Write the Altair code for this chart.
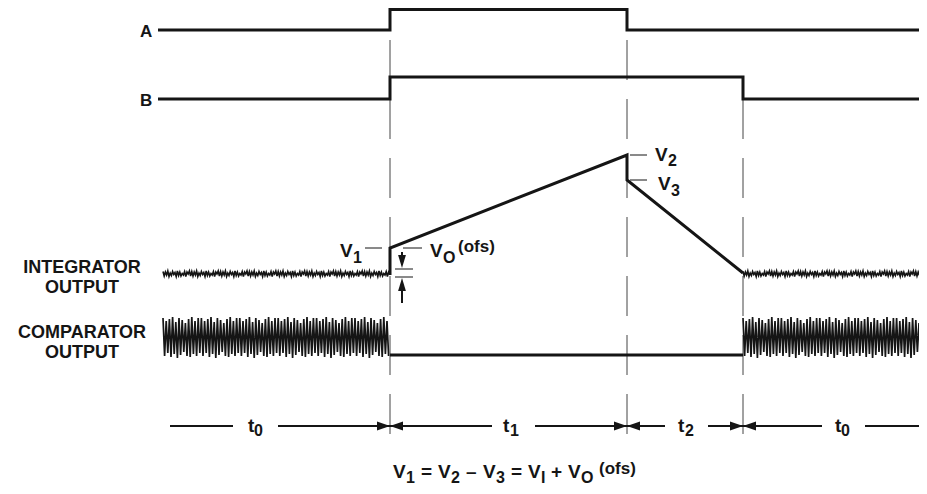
import altair as alt
import pandas as pd

# ---------------- data (timing diagram, page-pixel units) ----------------
t_edges = [390, 627, 743]          # event times: start of t1, start of t2, end of t2

A_x = [158, 390, 390, 627, 627, 927]
A_y = [30, 30, 9.5, 9.5, 30, 30]
B_x = [158, 390, 390, 743, 743, 927]
B_y = [99, 99, 77, 77, 99, 99]
integ_x = [390, 390, 627, 627, 743]
integ_y = [275, 248, 155, 180, 273]
comp_x = [390, 743]
comp_y = [355, 355]

# hand-drawn noise texture offsets (repeated along the idle intervals)
integ_pattern = [0.5, 5.0, 1.0, 4.0, 0.0, 5.5, 2.0, 4.5, 0.5, 3.5, 1.5, 5.5,
                 0.0, 4.5, 1.0, 5.0, 2.5, 4.0, 0.5, 5.5, 1.0, 3.0, 0.0, 5.0]
comp_top = [318, 321, 319, 317, 322, 318, 320, 323, 319, 317, 321, 318]
comp_bot = [356, 353, 357, 354, 358, 355, 352, 356, 357, 354, 356, 353]
noise_spans = [(163, 390), (743, 927)]

# thin reference ticks: (x1, x2, y)
tick_x1 = [365, 403, 395, 395, 630, 630]
tick_x2 = [382, 422, 413, 413, 647, 647]
tick_y = [248, 248, 269, 277, 155, 180]

# time-interval arrow row
row_y = 426
row_seg_x1 = [170, 278, 390, 535, 627, 708, 743, 865]
row_seg_x2 = [233, 390, 492, 627, 665, 743, 822, 927]

# arrowheads: tip x, tip y, direction
head_x = [390, 390, 627, 627, 743, 743, 402, 402]
head_y = [426, 426, 426, 426, 426, 426, 268, 278]
head_dir = ["right", "left", "right", "left", "right", "left", "down", "up"]
# VO(ofs) arrow stems: (x, y1, y2)
stem_x = [402, 402]
stem_y1 = [252, 291]
stem_y2 = [258, 303]

# text pieces (left aligned, alphabetic baseline); kind m = main, s = sub/superscript
txt = ["A", "B",
       "V", "1", "V", "2", "V", "3", "V", "O", "(ofs)",
       "t", "0", "t", "1", "t", "2", "t", "0",
       "V", "1", "=", "V", "2", "\u2013", "V", "3", "=", "V", "I", "+", "V", "O", "(ofs)"]
txt_x = [140, 140,
         340, 353, 655, 668, 658, 671, 430, 443, 458,
         248, 254, 503, 510, 678, 685, 835, 841,
         393, 406, 421, 438, 451, 466, 483, 496, 511, 528, 541, 551, 568, 581, 599]
txt_y = [37, 106,
         257, 263, 161, 166, 190, 196, 257, 263, 252,
         432, 436, 432, 436, 432, 436, 432, 436,
         478, 483, 478, 478, 483, 478, 478, 483, 478, 478, 483, 478, 478, 483, 474]
txt_kind = ["m", "m",
            "m", "s", "m", "s", "m", "s", "m", "s", "s",
            "m", "s", "m", "s", "m", "s", "m", "s",
            "m", "s", "m", "m", "s", "m", "m", "s", "m", "m", "s", "m", "m", "s", "s"]

labels = ["INTEGRATOR", "OUTPUT", "COMPARATOR", "OUTPUT"]
label_y = [273, 293, 338, 358]
label_x = 82

# ---------------- build tables ----------------
W, H = 911, 478
xs = alt.Scale(domain=[8, 8 + W], nice=False, zero=False)
ys = alt.Scale(domain=[8, 8 + H], nice=False, zero=False, reverse=True)
FONT = "Liberation Sans"
INK = "#151515"

def poly(rows, name, xs_, ys_):
    for i, (a, b) in enumerate(zip(xs_, ys_)):
        rows.append({"x": a, "y": b, "seg": name, "o": i})

thick = []
poly(thick, "A", A_x, A_y)
poly(thick, "B", B_x, B_y)
poly(thick, "I", integ_x, integ_y)
poly(thick, "C", comp_x, comp_y)
thick_df = pd.DataFrame(thick)

noise_i, noise_c = [], []
for k, (a, b) in enumerate(noise_spans):
    i = 0
    x = a
    while x <= b:
        noise_i.append({"x": x, "y": 271 + integ_pattern[i % len(integ_pattern)],
                        "seg": f"i{k}", "o": i})
        x += 1.2
        i += 1
    i = 0
    x = a
    while x <= b:
        yy = comp_top[(i // 2) % len(comp_top)] if i % 2 == 0 else comp_bot[(i // 2) % len(comp_bot)]
        noise_c.append({"x": x, "y": yy, "seg": f"c{k}", "o": i})
        x += 1.6
        i += 1
noise_i_df = pd.DataFrame(noise_i)
noise_c_df = pd.DataFrame(noise_c)

dash_df = pd.DataFrame({"x": t_edges, "y": [40, 40, 99], "y2": [437, 437, 437]})
tick_df = pd.DataFrame({"x": tick_x1, "x2": tick_x2, "y": tick_y})
row_df = pd.DataFrame({"x": row_seg_x1, "x2": row_seg_x2, "y": [row_y] * len(row_seg_x1)})
stem_df = pd.DataFrame({"x": stem_x, "y": stem_y1, "y2": stem_y2})
heads_df = pd.DataFrame({"x": head_x, "y": head_y, "d": head_dir})
txt_df = pd.DataFrame({"t": txt, "x": txt_x, "y": txt_y,
                       "fs": [19 if k == "m" else 16 for k in txt_kind]})
txt_df.loc[txt_df.t.isin(["A", "B"]), "fs"] = 17
txt_df.loc[txt_df.t == "(ofs)", "fs"] = 17
lab_df = pd.DataFrame({"t": labels, "x": [label_x] * 4, "y": label_y})

X = lambda f="x": alt.X(f"{f}:Q", scale=xs, axis=None)
Y = lambda f="y": alt.Y(f"{f}:Q", scale=ys, axis=None)

dashed = alt.Chart(dash_df).mark_rule(color="#444444", strokeWidth=1, strokeDash=[40, 19]).encode(
    x=X(), y=Y(), y2="y2:Q")

def line_layer(df, width):
    return alt.Chart(df).mark_line(color=INK, strokeWidth=width, strokeJoin="miter", strokeCap="butt").encode(
        x=X(), y=Y(), detail="seg:N", order="o:Q")

thick_l = line_layer(thick_df, 3)
ni_l = line_layer(noise_i_df, 1.6)
nc_l = line_layer(noise_c_df, 1.7)

ticks = alt.Chart(tick_df).mark_rule(color=INK, strokeWidth=1).encode(x=X(), x2="x2:Q", y=Y())
row = alt.Chart(row_df).mark_rule(color=INK, strokeWidth=2).encode(x=X(), x2="x2:Q", y=Y())
stems = alt.Chart(stem_df).mark_rule(color=INK, strokeWidth=2).encode(x=X(), y=Y(), y2="y2:Q")

shapes = {"right": "M0,0L-2,-0.7L-2,0.7Z", "left": "M0,0L2,-0.7L2,0.7Z",
          "down": "M0,0L-0.6,-2L0.6,-2Z", "up": "M0,0L-0.6,2L0.6,2Z"}
heads = alt.Chart(heads_df).mark_point(filled=True, opacity=1, color=INK, strokeWidth=0).encode(
    x=X(), y=Y(),
    shape=alt.Shape("d:N", scale=alt.Scale(domain=list(shapes), range=list(shapes.values())), legend=None),
    size=alt.value(169))

texts = alt.Chart(txt_df).mark_text(align="left", baseline="alphabetic", font=FONT,
                                    fontWeight="bold", color=INK).encode(
    x=X(), y=Y(), text="t:N", size=alt.Size("fs:Q", scale=None))
labs = alt.Chart(lab_df).mark_text(align="center", baseline="alphabetic", font=FONT,
                                   fontWeight="bold", color=INK, fontSize=18).encode(
    x=X(), y=Y(), text="t:N")

chart = alt.layer(dashed, ni_l, nc_l, thick_l, ticks, row, stems, heads, texts, labs).properties(
    width=W, height=H, padding=0, autosize="none"
).configure_view(stroke=None)

chart.save("out.html", embed_options={"renderer": "svg", "actions": False})
